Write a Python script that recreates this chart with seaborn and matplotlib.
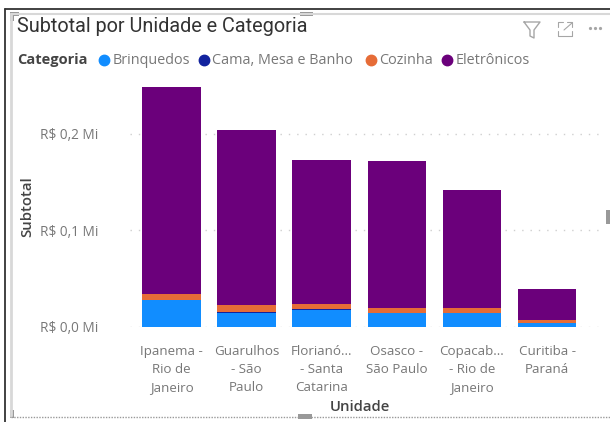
import matplotlib
matplotlib.use('Agg')
import matplotlib.pyplot as plt
from matplotlib.lines import Line2D
from matplotlib.patches import Rectangle
from matplotlib.ticker import FuncFormatter
import pandas as pd
import seaborn as sns

unidades = ['Ipanema -\nRio de\nJaneiro', 'Guarulhos\n- São\nPaulo', 'Florianó...\n- Santa\nCatarina',
            'Osasco -\nSão Paulo', 'Copacab...\n- Rio de\nJaneiro', 'Curitiba -\nParaná']
categorias = ['Brinquedos', 'Cama, Mesa e Banho', 'Cozinha', 'Eletrônicos']
brinquedos = [0.028, 0.014, 0.018, 0.014, 0.014, 0.004]
cama_mesa = [0.0003, 0.0015, 0.0005, 0.0005, 0.0005, 0.0003]
cozinha = [0.006, 0.007, 0.005, 0.005, 0.005, 0.003]
eletronicos = [0.2144, 0.182, 0.1495, 0.1525, 0.1225, 0.0317]
cores = ['#118DFF', '#12239E', '#E66C37', '#6B007B']
y_ticks = [0.0, 0.1, 0.2]

W, H = 610, 422
sns.set_style('white')
plt.rcParams['font.family'] = ['Open Sans', 'DejaVu Sans']

fig = plt.figure(figsize=(W / 100, H / 100), dpi=100)
ax = fig.add_axes([130 / W, 1 - 327 / H, 470 / W, 255 / H])


def px(x, y):
    return x / W, 1 - y / H


# 1. Stacked bars
df = pd.DataFrame({'Unidade': unidades, 'Brinquedos': brinquedos, 'Cama, Mesa e Banho': cama_mesa,
                   'Cozinha': cozinha, 'Eletrônicos': eletronicos})
base = pd.Series([0.0] * len(df))
for cat, cor in zip(categorias, cores):
    sns.barplot(data=df, x='Unidade', y=cat, bottom=base, color=cor, width=0.78, ax=ax,
                saturation=1, linewidth=0, zorder=3)
    base = base + df[cat]

# 2. Axes
ax.set_xlim(-0.553, 5.705)
ax.set_ylim(0, 0.2642)
ax.set_yticks(y_ticks)
ax.yaxis.set_major_formatter(FuncFormatter(lambda v, _: f'R$ {v:.1f} Mi'.replace('.', ',')))
ax.tick_params(axis='y', labelsize=9.8, labelcolor='#777777', length=0, pad=23)
ax.tick_params(axis='x', labelsize=9.6, labelcolor='#777777', length=0, pad=13)
for label in ax.get_xticklabels():
    label.set_linespacing(1.5)
ax.grid(axis='y', color='#CFCFCF', linestyle=(0, (1, 5)), linewidth=1, zorder=0)
ax.set_axisbelow(True)
sns.despine(ax=ax, left=True, bottom=True)
ax.set_xlabel('')
ax.set_ylabel('')
ax.patch.set_alpha(0)

# 3. Texts outside the axes
fig.text(*px(17, 26), 'Subtotal por Unidade e Categoria', fontsize=14.3, color='#333333', va='center',
         family=['Roboto', 'DejaVu Sans'])
fig.text(*px(17, 60), 'Categoria', fontsize=10.5, color='#444444', fontweight='bold', va='center')
leg_x = [(104, 113), (204, 212), (371, 379), (447, 456)]
for (mx, tx), cat, cor in zip(leg_x, categorias, cores):
    fig.add_artist(Line2D([mx / W], [1 - 60 / H], marker='o', markersize=7.5, color=cor, linestyle=''))
    fig.text(*px(tx, 60), cat, fontsize=10.4, color='#777777', va='center')
fig.text(*px(27, 207), 'Subtotal', fontsize=10.7, color='#444444', rotation=90, ha='center', va='center',
         fontweight='semibold')
fig.text(*px(360, 407), 'Unidade', fontsize=10.7, color='#444444', ha='center', va='center', fontweight='semibold')

# 4. Frame of the visual
frame = [([5, 5], [9, 422], '#333333', 1.3), ([5, 610], [9, 9], '#333333', 1.3),
         ([11, 11], [14, 416], '#D8D8D8', 2), ([11, 610], [14, 14], '#D8D8D8', 1.5),
         ([11, 610], [417, 417], '#999999', 1)]
for xs, ys, cor, lw in frame:
    ls = (0, (1, 1)) if ys == [417, 417] else '-'
    fig.add_artist(Line2D([x / W for x in xs], [1 - y / H for y in ys], color=cor, linewidth=lw, linestyle=ls))
for x, y, w, h in [(10, 12, 9, 4), (10, 12, 4, 9), (300, 12, 13, 4), (298, 414, 14, 5), (10, 410, 4, 8),
                   (606, 210, 4, 14)]:
    fig.add_artist(Rectangle((x / W, 1 - (y + h) / H), w / W, h / H, color='#999999', linewidth=0))

# 5. Header icons
icone = '#A6A6A6'
fig.add_artist(Line2D([x / W for x in [524, 540, 534, 534, 530, 530, 524]],
                      [1 - y / H for y in [22, 22, 30, 38, 36, 30, 22]], color=icone, linewidth=1))
for xs, ys in [([558, 558, 563], [27, 22, 22]), ([558, 558, 572], [31, 36, 36]),
               ([567, 572, 572], [22, 22, 27]), ([572, 572], [31, 36]), ([564, 572], [30, 23])]:
    fig.add_artist(Line2D([x / W for x in xs], [1 - y / H for y in ys], color=icone, linewidth=0.8))
fig.add_artist(Line2D([x / W for x in [590, 595, 600]], [1 - 28 / H] * 3, marker='o', markersize=1.3,
                      color=icone, linestyle=''))

fig.savefig('out.png', dpi=100)
